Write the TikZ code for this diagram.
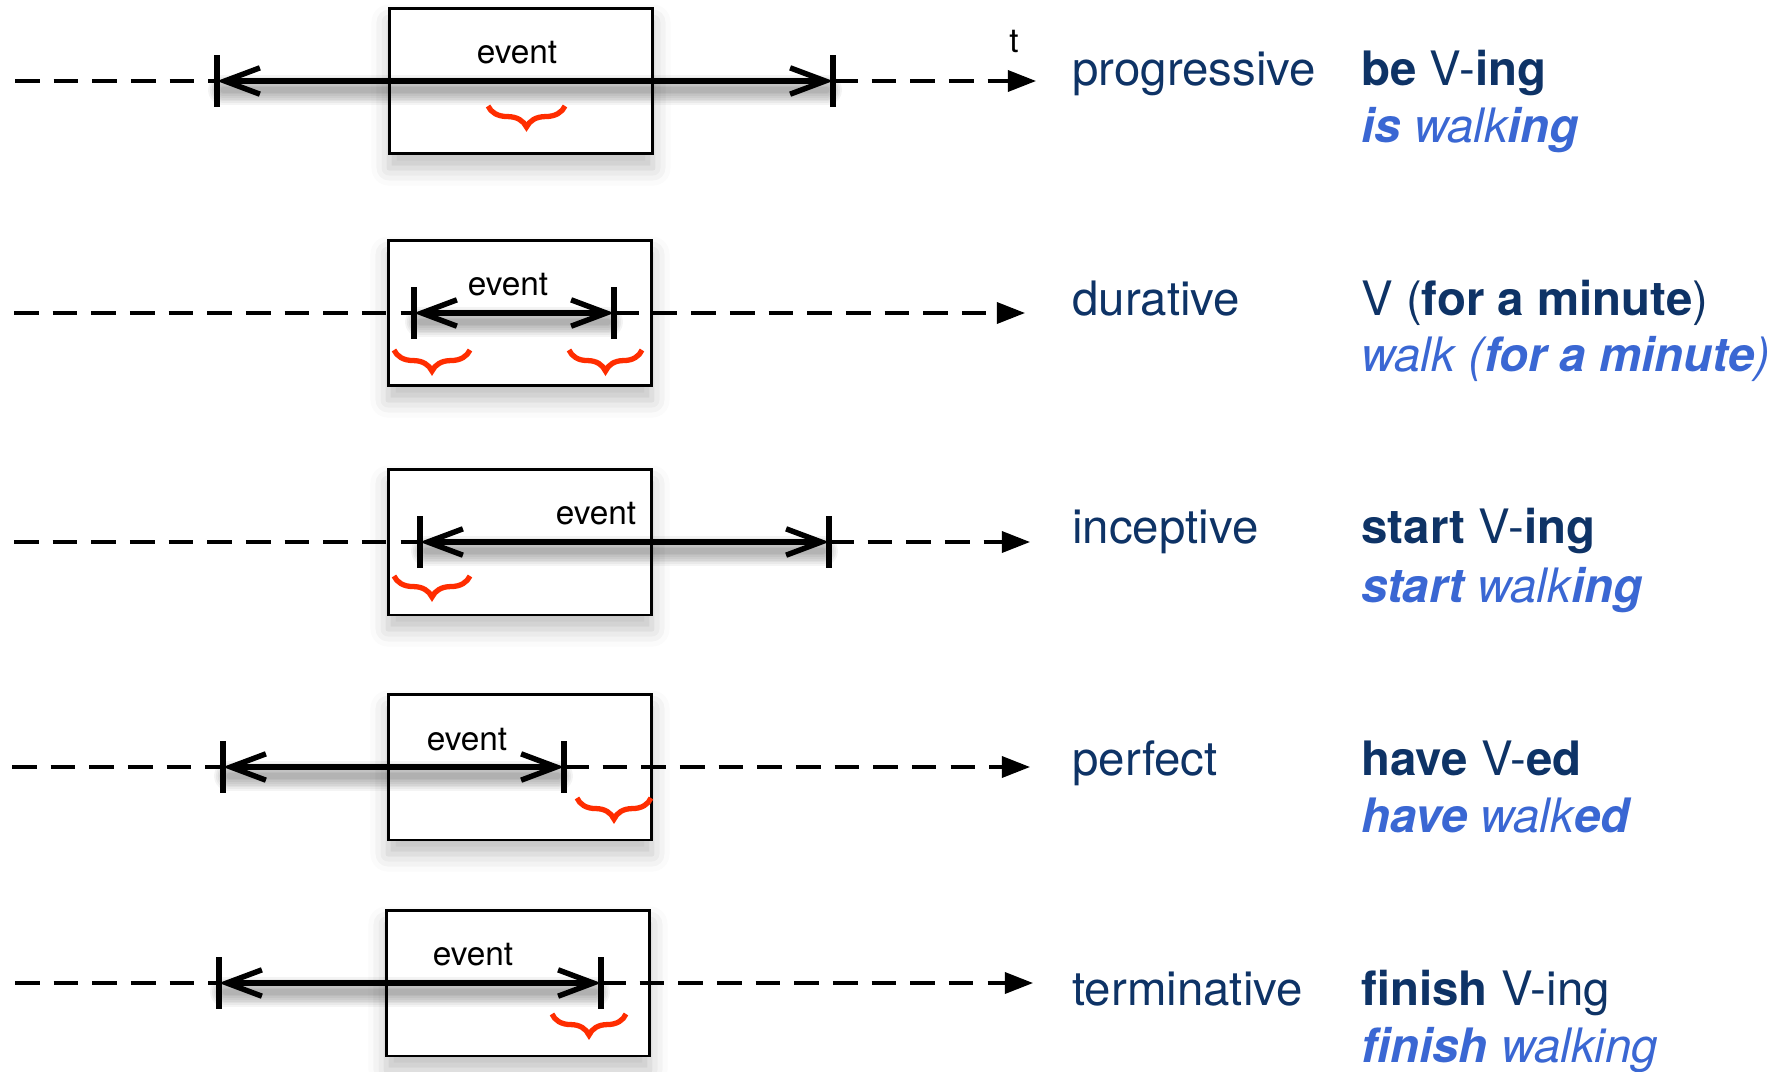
\documentclass[tikz,border=0pt]{standalone}
\usepackage{fontspec}
\setmainfont{TeX Gyre Heros}
\usetikzlibrary{arrows.meta,decorations.pathreplacing,shadows.blur}

\definecolor{navy}{HTML}{0E3366}
\definecolor{walkblue}{HTML}{3A67D3}
\definecolor{bracered}{HTML}{FF2D00}

\tikzset{
  eventbox/.style={draw=black, line width=1.7pt, fill=white,
    minimum width=5.28cm, minimum height=2.92cm, inner sep=0pt,
    blur shadow={shadow xshift=0pt, shadow yshift=-8pt,
      shadow blur radius=10pt, shadow opacity=25}},
  softshade/.style={draw=black, line width=#1, opacity=0.045, line cap=round},
  timeline/.style={line width=1.9pt, dash pattern=on 14pt off 8pt},
  timeend/.style={timeline, -{Triangle[length=16pt,width=12pt]}},
  evspan/.style={line width=3.1pt,
    {Straight Barb[length=20pt,width=15pt]}-{Straight Barb[length=20pt,width=15pt]}},
  boundtick/.style={line width=3.4pt},
  focus/.style={draw=bracered, line width=3pt, decorate,
    decoration={brace, mirror, amplitude=12pt}},
  evlabel/.style={font=\fontsize{19}{22}\selectfont, anchor=base, inner sep=0pt},
  aspect/.style={font=\fontsize{27}{32}\selectfont, text=navy,
    anchor=base west, inner sep=0pt},
  example/.style={font=\fontsize{27}{32}\selectfont\itshape, text=walkblue,
    anchor=base west, inner sep=0pt},
}

\begin{document}
\begin{tikzpicture}[x=0.02cm, y=-0.02cm]
\useasboundingbox (0,0) rectangle (1789,1072);

% one time line per row: event box, bounded interval, dashed axis
\foreach \i/\y/\bx/\sx/\lx/\rx/\ex in {
    1/81/521/15/217/833/1036,
    2/313/520/14/414/614/1025,
    3/542/520/14/420/829/1030,
    4/767/520/12/223/564/1030,
    5/983/518/15/219/601/1033}{
  \node[eventbox] (box\i) at (\bx,\y) {};
  % soft shadow under the interval, built from stacked translucent strokes
  \foreach \w in {3,5,...,17}{
    \draw[softshade=\w pt] (\lx+6,\y+9) -- (\rx-6,\y+9);
  }
  \coordinate (s\i) at (\sx,\y);
  \coordinate (l\i) at (\lx,\y);
  \coordinate (r\i) at (\rx,\y);
  \coordinate (e\i) at (\ex,\y);
  \coordinate (lt\i) at (\lx,\y-26);
  \coordinate (lb\i) at (\lx,\y+26);
  \coordinate (rt\i) at (\rx,\y-26);
  \coordinate (rb\i) at (\rx,\y+26);
  \draw[timeline] (s\i) -- (l\i);
  \draw[timeend] (r\i) -- (e\i);
  \draw[evspan] (l\i) -- (r\i);
  \draw[boundtick] (lt\i) -- (lb\i);
  \draw[boundtick] (rt\i) -- (rb\i);
}

% event labels
\node[evlabel] (ev1) at (517,63) {event};
\node[evlabel] (ev2) at (508,295) {event};
\node[evlabel] (ev3) at (596,524) {event};
\node[evlabel] (ev4) at (467,750) {event};
\node[evlabel] (ev5) at (473,965) {event};
\node[evlabel] (tlabel) at (1014,52) {t};

% focused phases
\draw[focus] (488,106) -- (565,106);
\draw[focus] (394,350) -- (470,350);
\draw[focus] (569,350) -- (642,350);
\draw[focus] (394,576) -- (470,576);
\draw[focus] (577,798) -- (651,798);
\draw[focus] (552,1014) -- (626,1014);

% aspect names
\node[aspect] (asp1) at (1072,85) {progressive};
\node[aspect] (asp2) at (1072,315) {durative};
\node[aspect] (asp3) at (1072,543) {inceptive};
\node[aspect] (asp4) at (1072,775) {perfect};
\node[aspect] (asp5) at (1072,1005) {terminative};

% forms and examples
\node[aspect] (frm1) at (1361,85) {\textbf{be} V-\textbf{ing}};
\node[example] (exm1) at (1361,142) {\textbf{is} walk\textbf{ing}};
\node[aspect] (frm2) at (1361,315) {V (\textbf{for a minute})};
\node[example] (exm2) at (1361,371) {walk (\textbf{for a minute})};
\node[aspect] (frm3) at (1361,543) {\textbf{start} V-\textbf{ing}};
\node[example] (exm3) at (1361,602) {\textbf{start} walk\textbf{ing}};
\node[aspect] (frm4) at (1361,775) {\textbf{have} V-\textbf{ed}};
\node[example] (exm4) at (1361,832) {\textbf{have} walk\textbf{ed}};
\node[aspect] (frm5) at (1361,1005) {\textbf{finish} V-ing};
\node[example] (exm5) at (1361,1062) {\textbf{finish} walking};
\end{tikzpicture}
\end{document}
